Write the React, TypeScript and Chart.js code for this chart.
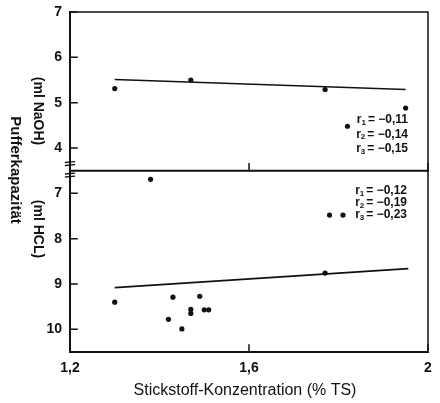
import React, { useEffect, useRef } from "react";
import { Chart, registerables } from "chart.js";
Chart.register(...registerables);

const xTicks = [1.2, 1.6, 2];
const naohTicks = [4, 5, 6, 7];
const hclTicks = [7, 8, 9, 10];

const naohX = [1.3, 1.47, 1.77, 1.82, 1.95];
const naohY = [5.31, 5.5, 5.29, 4.48, 4.88];
const naohFitX = [1.3, 1.95];
const naohFitY = [5.51, 5.29];

const hclX = [1.3, 1.38, 1.42, 1.43, 1.45, 1.47, 1.47, 1.49, 1.5, 1.51, 1.77, 1.78, 1.81];
const hclY = [9.4, 6.69, 9.78, 9.29, 9.99, 9.56, 9.65, 9.27, 9.57, 9.57, 8.76, 7.48, 7.48];
const hclFitX = [1.3, 1.956];
const hclFitY = [9.08, 8.66];

const rNames = ["1", "2", "3"];
const naohR = ["−0,11", "−0,14", "−0,15"];
const hclR = ["−0,12", "−0,19", "−0,23"];

const yTitle = "Pufferkapazität";
const naohTitle = "(ml NaOH)";
const hclTitle = "(ml HCL)";
const xTitle = "Stickstoff-Konzentration (% TS)";

const FAM = '"Liberation Sans", Arial, sans-serif';
const INK = "#111";

const pts = (xs: number[], ys: number[]) => xs.map((x, i) => ({ x, y: ys[i] }));
const fmt = (v: number) => String(v).replace(".", ",");

const framePlugin = {
  id: "frame",
  afterDraw(chart: any) {
    const ctx = chart.ctx as CanvasRenderingContext2D;
    const xs = chart.scales.x;
    const yN = chart.scales.yN;
    const yH = chart.scales.yH;
    const L = xs.left, R = xs.right;
    const T = yN.top, M = yN.bottom, B = yH.bottom;
    ctx.save();
    ctx.strokeStyle = INK;
    ctx.lineCap = "square";
    // frame
    ctx.lineWidth = 2;
    ctx.beginPath();
    ctx.moveTo(L, T); ctx.lineTo(L, B);
    ctx.moveTo(L, B); ctx.lineTo(R, B);
    ctx.moveTo(L, M); ctx.lineTo(R, M);
    ctx.stroke();
    ctx.lineWidth = 1.5;
    ctx.beginPath();
    ctx.moveTo(L, T); ctx.lineTo(R, T);
    ctx.moveTo(R, T); ctx.lineTo(R, B);
    ctx.stroke();
    // ticks inward
    ctx.lineWidth = 1.5;
    ctx.beginPath();
    naohTicks.forEach((v) => { const p = yN.getPixelForValue(v); ctx.moveTo(L, p); ctx.lineTo(L + 7, p); });
    hclTicks.forEach((v) => { const p = yH.getPixelForValue(v); ctx.moveTo(L, p); ctx.lineTo(L + 7, p); });
    xTicks.forEach((v) => {
      const p = xs.getPixelForValue(v);
      ctx.moveTo(p, B); ctx.lineTo(p, B - 7);
      ctx.moveTo(p, M); ctx.lineTo(p, M - 7);
    });
    ctx.stroke();
    // axis break marks
    ctx.lineWidth = 1.3;
    ctx.beginPath();
    [M - 7, M + 4.5].forEach((y) => {
      ctx.moveTo(L - 4.5, y - 1.2); ctx.lineTo(L + 4.5, y - 2);
      ctx.moveTo(L - 4.5, y + 1.8); ctx.lineTo(L + 4.5, y + 1);
    });
    ctx.stroke();

    // titles
    ctx.fillStyle = INK;
    ctx.textAlign = "center";
    ctx.textBaseline = "middle";
    const vText = (t: string, x: number, y: number, font: string) => {
      ctx.save();
      ctx.translate(x, y);
      ctx.rotate(Math.PI / 2);
      ctx.font = font;
      ctx.fillText(t, 0, 0);
      ctx.restore();
    };
    vText(yTitle, 15, 170, `bold 15px ${FAM}`);
    vText(naohTitle, 38, 111, `bold 14px ${FAM}`);
    vText(hclTitle, 38, 229, `bold 14px ${FAM}`);
    ctx.font = `16px ${FAM}`;
    ctx.fillText(xTitle, 245, 391);

    // r values
    const rBlock = (vals: string[], right: number, y0: number, dy: number) => {
      vals.forEach((v, i) => {
        const y = y0 + i * dy;
        ctx.textBaseline = "middle";
        ctx.textAlign = "right";
        ctx.font = `bold 12px ${FAM}`;
        const main = "= " + v;
        ctx.fillText(main, right, y);
        const w = ctx.measureText(main).width;
        ctx.font = `bold 8px ${FAM}`;
        const sx = right - w - 2;
        ctx.fillText(rNames[i], sx, y + 2.5);
        const sw = ctx.measureText(rNames[i]).width;
        ctx.font = `bold 12px ${FAM}`;
        ctx.fillText("r", sx - sw, y);
      });
    };
    rBlock(naohR, 408, 120, 14.5);
    rBlock(hclR, 407, 191, 12);
    ctx.restore();
  },
};

export default function App() {
  const ref = useRef<HTMLCanvasElement | null>(null);
  useEffect(() => {
    if (!ref.current) return;
    const tickFont = { family: FAM, size: 14, weight: "bold" as const };
    const fitY = (s: any) => { s.width = 70; s.paddingTop = 0; s.paddingBottom = 0; };
    const chart = new Chart(ref.current, {
      type: "scatter",
      data: {
        datasets: [
          { type: "scatter", data: pts(naohX, naohY), yAxisID: "yN", pointRadius: 2.6, backgroundColor: INK, borderWidth: 0 },
          { type: "line", data: pts(naohFitX, naohFitY), yAxisID: "yN", borderColor: INK, borderWidth: 1.6, pointRadius: 0, fill: false },
          { type: "scatter", data: pts(hclX, hclY), yAxisID: "yH", pointRadius: 2.6, backgroundColor: INK, borderWidth: 0 },
          { type: "line", data: pts(hclFitX, hclFitY), yAxisID: "yH", borderColor: INK, borderWidth: 1.6, pointRadius: 0, fill: false },
        ] as any,
      },
      plugins: [framePlugin],
      options: {
        responsive: false,
        animation: false,
        devicePixelRatio: 1,
        layout: { padding: { left: 0, top: 12, right: 12, bottom: 0 } },
        plugins: { legend: { display: false }, tooltip: { enabled: false } },
        scales: {
          x: {
            type: "linear", min: 1.2, max: 2, position: "bottom",
            grid: { display: false, drawTicks: false }, border: { display: false },
            ticks: { padding: 8, font: tickFont, color: INK, callback: (v: any) => fmt(Number(v)) },
            afterBuildTicks: (s: any) => { s.ticks = xTicks.map((v) => ({ value: v })); },
            afterFit: (s: any) => { s.height = 51; s.paddingLeft = 0; s.paddingRight = 0; },
          },
          yH: {
            type: "linear", min: 6.5, max: 10.5, reverse: true, position: "left", stack: "p", stackWeight: 4,
            grid: { display: false, drawTicks: false }, border: { display: false },
            ticks: { padding: 8, font: tickFont, color: INK },
            afterBuildTicks: (s: any) => { s.ticks = hclTicks.map((v) => ({ value: v })); },
            afterFit: fitY,
          },
          yN: {
            type: "linear", min: 3.5, max: 7, position: "left", stack: "p", stackWeight: 3.5,
            grid: { display: false, drawTicks: false }, border: { display: false },
            ticks: { padding: 8, font: tickFont, color: INK },
            afterBuildTicks: (s: any) => { s.ticks = naohTicks.map((v) => ({ value: v })); },
            afterFit: fitY,
          },
        } as any,
      },
    });
    return () => chart.destroy();
  }, []);
  return (
    <div style={{ position: "absolute", left: 0, top: 0, width: 440, height: 403, background: "#fff" }}>
      <canvas ref={ref} width={440} height={403} style={{ width: 440, height: 403, display: "block" }} />
    </div>
  );
}
